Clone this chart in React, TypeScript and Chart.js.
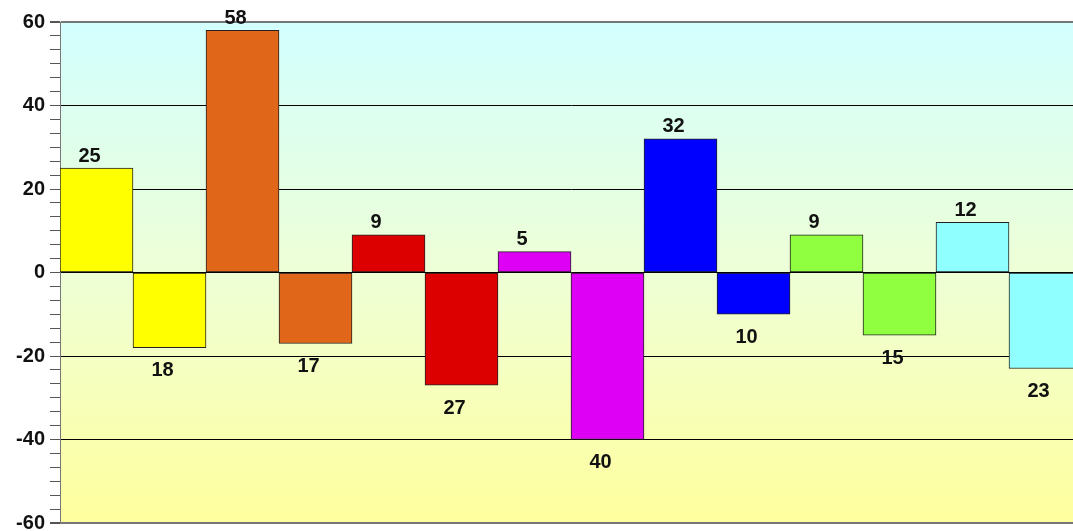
import React, { useEffect, useRef } from "react";
import { Chart, registerables } from "chart.js";

Chart.register(...registerables);

const categories = ["1", "2", "3", "4", "5", "6", "7", "8", "9", "10", "11", "12", "13", "14"];
const values = [25, -18, 58, -17, 9, -27, 5, -40, 32, -10, 9, -15, 12, -23];
const barColors = [
  "#FFFF00", "#FFFF00",
  "#E0661A", "#E0661A",
  "#DD0000", "#DD0000",
  "#DD00F5", "#DD00F5",
  "#0000FF", "#0000FF",
  "#90FF40", "#90FF40",
  "#90FFFF", "#90FFFF",
];
const minorStep = 20 / 6;
const tickValues: number[] = [];
for (let k = 0; k <= 36; k++) tickValues.push(-60 + k * minorStep);

const FONT = '"Liberation Sans", Arial, sans-serif';

const isMajor = (v: number) => Math.abs(v - Math.round(v / 20) * 20) < 1e-6;

const bgPlugin = {
  id: "bgGradient",
  beforeDraw(chart: any) {
    const { ctx, chartArea } = chart;
    if (!chartArea) return;
    const g = ctx.createLinearGradient(0, chartArea.top, 0, chartArea.bottom);
    g.addColorStop(0, "#D2FFFF");
    g.addColorStop(0.5, "#EEFFD6");
    g.addColorStop(1, "#FFFF9E");
    ctx.save();
    ctx.fillStyle = g;
    ctx.fillRect(chartArea.left, chartArea.top, chartArea.right - chartArea.left, chartArea.bottom - chartArea.top);
    ctx.restore();
  },
};

const labelPlugin = {
  id: "valueLabels",
  afterDatasetsDraw(chart: any) {
    const { ctx } = chart;
    const meta = chart.getDatasetMeta(0);
    ctx.save();
    ctx.font = `bold 20px ${FONT}`;
    ctx.fillStyle = "#111";
    ctx.textAlign = "left";
    ctx.textBaseline = "middle";
    meta.data.forEach((bar: any, i: number) => {
      const v = values[i];
      const y = v >= 0 ? bar.y - 12 : bar.y + 23;
      ctx.fillText(String(Math.abs(v)), bar.x - 18, y);
    });
    ctx.restore();
  },
};

export default function App() {
  const ref = useRef<HTMLCanvasElement | null>(null);
  useEffect(() => {
    document.body.style.margin = "0";
    if (!ref.current) return;
    const chart = new Chart(ref.current, {
      type: "bar",
      data: {
        labels: categories,
        datasets: [
          {
            data: values,
            backgroundColor: barColors,
            borderColor: "#222",
            borderWidth: 1,
            borderSkipped: false,
            categoryPercentage: 1,
            barPercentage: 1,
          },
        ],
      },
      options: {
        animation: false,
        responsive: true,
        maintainAspectRatio: false,
        layout: { padding: { top: 22, bottom: 8, left: 0, right: 0 } },
        plugins: { legend: { display: false }, tooltip: { enabled: false } },
        scales: {
          x: { display: false },
          y: {
            min: -60,
            max: 60,
            afterBuildTicks: (scale: any) => {
              scale.ticks = tickValues.map((v) => ({ value: v }));
            },
            afterFit: (scale: any) => {
              scale.width = 60;
              scale.paddingTop = 0;
              scale.paddingBottom = 0;
            },
            ticks: {
              autoSkip: false,
              padding: 5,
              color: "#111",
              font: { family: FONT, size: 20, weight: "bold" },
              callback: (v: any) => (isMajor(Number(v)) ? String(Math.round(Number(v))) : ""),
            },
            grid: {
              color: (ctx: any) => {
                const v = ctx.tick ? ctx.tick.value : 0;
                if (!isMajor(v)) return "rgba(0,0,0,0)";
                if (Math.abs(Math.abs(v) - 60) < 1e-6) return "#777";
                return "#000";
              },
              lineWidth: (ctx: any) => {
                const v = ctx.tick ? ctx.tick.value : 0;
                return Math.abs(Math.abs(v) - 60) < 1e-6 ? 2 : 1;
              },
              tickColor: "#555",
              tickLength: 10,
              drawTicks: true,
            },
            border: { display: true, color: "#777", width: 1 },
          },
        },
      },
      plugins: [bgPlugin, labelPlugin],
    });
    return () => chart.destroy();
  }, []);
  return (
    <div style={{ position: "fixed", left: 0, top: 0, width: 1073, height: 531, overflow: "hidden" }}>
      <div style={{ position: "absolute", left: 0, top: 0, width: 1082, height: 531 }}>
        <canvas ref={ref} />
      </div>
    </div>
  );
}
